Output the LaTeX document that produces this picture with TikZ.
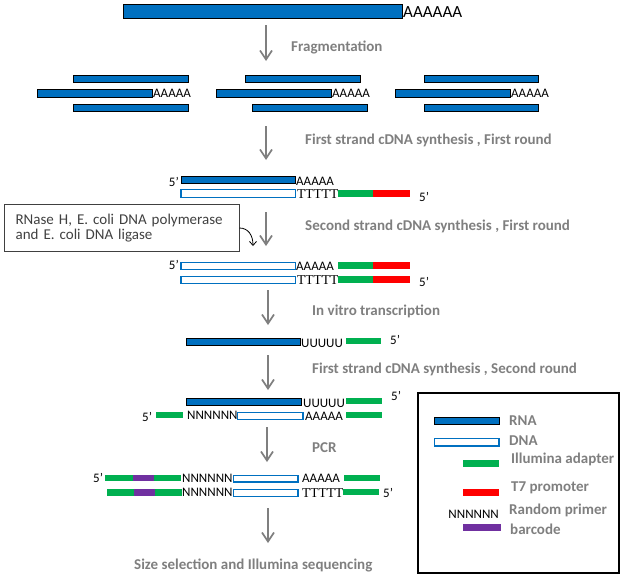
\documentclass[tikz,border=0pt]{standalone}
\usepackage{fontspec}
\setmainfont{Carlito}
\newfontfamily\serifseq{Liberation Serif}
\usetikzlibrary{arrows.meta}
\definecolor{rnablue}{HTML}{0070C0}
\definecolor{adgreen}{HTML}{00B050}
\definecolor{tred}{HTML}{FF0000}
\definecolor{bcpurple}{HTML}{7030A0}
\definecolor{labgray}{HTML}{7F7F7F}
\definecolor{boxgray}{HTML}{404040}
\begin{document}
\begin{tikzpicture}[x=1pt,y=-1pt,
 rna/.style={fill=rnablue,draw=black,line width=0.9pt},
 dna/.style={fill=white,draw=rnablue,line width=1.9pt},
 adapter/.style={fill=adgreen},
 tseven/.style={fill=tred},
 bc/.style={fill=bcpurple},
 lab/.style={anchor=west,inner sep=0pt,text=labgray,font=\fontsize{15}{18}\selectfont\bfseries},
 seq/.style={anchor=west,inner sep=0pt,font=\fontsize{13}{15}\selectfont},
 tseq/.style={anchor=west,inner sep=0pt,font=\fontsize{13.5}{15}\serifseq},
 flow/.style={draw=labgray,line width=2pt,-{Straight Barb[length=9pt,width=12pt,line width=1.7pt]}},
]
\useasboundingbox (0,0) rectangle (623,579);

% ---- top mRNA
\path[rna] (123.5,4.5) rectangle (402,18);
\node[seq,font=\fontsize{17}{20}\selectfont] (polyA) at (403,12) {AAAAAA};

% ---- arrow 1
\coordinate (a1s) at (266,25); \coordinate (a1e) at (266,61);
\draw[flow] (a1s) -- (a1e);
\node[lab] (t1) at (291,47) {Fragmentation};

% ---- fragments
\path[rna] (73.5,75.5) rectangle (188,82.5);
\path[rna] (37.5,89.5) rectangle (152.5,97);
\node[seq] (fa1) at (153,93.5) {AAAAA};
\path[rna] (73.5,104.5) rectangle (188,111.5);

\path[rna] (245,75.5) rectangle (360,82.5);
\path[rna] (216.5,89.5) rectangle (331.5,97);
\node[seq] (fa2) at (332,93.5) {AAAAA};
\path[rna] (252,104.5) rectangle (367,111.5);

\path[rna] (424,75.5) rectangle (538.5,82.5);
\path[rna] (395.5,89.5) rectangle (510.5,97);
\node[seq] (fa3) at (511,93.5) {AAAAA};
\path[rna] (424,104.5) rectangle (538.5,111.5);

% ---- arrow 2
\coordinate (a2s) at (266,126); \coordinate (a2e) at (266,160);
\draw[flow] (a2s) -- (a2e);
\node[lab] (t2) at (305,140) {First strand cDNA synthesis , First round};

% ---- row 3
\node[seq,anchor=east] (r3p1) at (179,182) {5’};
\path[rna] (181,176.5) rectangle (295.5,183);
\node[seq] (r3a) at (296,181.5) {AAAAA};
\path[dna] (181,189.5) rectangle (295.5,197.5);
\node[tseq] (r3t) at (297,194) {TTTTT};
\path[adapter] (338,190) rectangle (373,197);
\path[tseven] (373,190) rectangle (409.5,197);
\node[seq] (r3p2) at (419,197) {5’};

% ---- enzyme box
\node[draw=boxgray,line width=1.2pt,anchor=north west,minimum width=235pt,minimum height=47pt,
      text width=213pt,inner xsep=11pt,align=left,text=boxgray,
      font=\fontsize{15}{15}\selectfont] (enz) at (4,204)
      {RNase H, E. coli DNA polymerase\\and E. coli DNA ligase};
\coordinate (cs) at (239.5,228); \coordinate (ce) at (253,246);
\draw[black,line width=0.8pt,-{Straight Barb[length=4pt,width=7pt]}] (cs) .. controls (248,228) and (253,235) .. (ce);

% ---- arrow 3
\coordinate (a3s) at (266,212); \coordinate (a3e) at (266,246);
\draw[flow] (a3s) -- (a3e);
\node[lab] (t3) at (305,226) {Second strand cDNA synthesis , First round};

% ---- row 4
\node[seq,anchor=east] (r4p1) at (179,265) {5’};
\path[dna] (181,262.5) rectangle (295.5,269.5);
\node[seq] (r4a) at (296,266) {AAAAA};
\path[adapter] (338,262) rectangle (373,268.5);
\path[tseven] (373,262) rectangle (409.5,268.5);
\path[dna] (181,276.5) rectangle (295.5,283.5);
\node[tseq] (r4t) at (297,280) {TTTTT};
\path[adapter] (338,276) rectangle (373,283);
\path[tseven] (373,276) rectangle (409.5,283);
\node[seq] (r4p2) at (419,282) {5’};

% ---- arrow 4
\coordinate (a4s) at (268,290); \coordinate (a4e) at (268,325);
\draw[flow] (a4s) -- (a4e);
\node[lab] (t4) at (312,311) {In vitro transcription};

% ---- row 5
\path[rna] (186.5,338.5) rectangle (300.5,345);
\node[seq] (r5u) at (301,343) {UUUUU};
\path[adapter] (346,338) rectangle (381,344);
\node[seq] (r5p) at (390,340) {5’};

% ---- arrow 5
\coordinate (a5s) at (268,355); \coordinate (a5e) at (268,390);
\draw[flow] (a5s) -- (a5e);
\node[lab] (t5) at (312,369) {First strand cDNA synthesis , Second round};

% ---- row 6
\path[rna] (186,398.5) rectangle (301,405);
\node[seq] (r6u) at (303,403) {UUUUU};
\path[adapter] (346,398) rectangle (382,404);
\node[seq] (r6p1) at (391,396) {5’};
\node[seq] (r6p2) at (142,417) {5’};
\path[adapter] (156,412) rectangle (183,418);
\node[seq] (r6n) at (187,415) {NNNNNN};
\path[dna] (237.5,412.5) rectangle (303,419.5);
\node[seq] (r6a) at (305,416) {AAAAA};
\path[adapter] (346,412) rectangle (382,418);

% ---- arrow 6
\coordinate (a6s) at (267,427); \coordinate (a6e) at (267,462);
\draw[flow] (a6s) -- (a6e);
\node[lab] (t6) at (312,448) {PCR};

% ---- row 7
\node[seq] (r7p1) at (93,478) {5’};
\path[adapter] (105,475) rectangle (133,481);
\path[bc] (133,475) rectangle (154,481);
\path[adapter] (154,475) rectangle (181,481);
\node[seq] (r7n1) at (182,478) {NNNNNN};
\path[dna] (233.5,475.5) rectangle (298,482);
\node[seq] (r7a) at (302,478.5) {AAAAA};
\path[adapter] (344,475) rectangle (380,481);

\path[adapter] (107,489) rectangle (134,495.5);
\path[bc] (134,489) rectangle (155,495.5);
\path[adapter] (155,489) rectangle (182,495.5);
\node[seq] (r7n2) at (182,492.5) {NNNNNN};
\path[dna] (233.5,489.5) rectangle (298,496.5);
\node[tseq] (r7t) at (302,493) {TTTTT};
\path[adapter] (343,489) rectangle (379,495);
\node[seq] (r7p2) at (383,493) {5’};

% ---- arrow 7
\coordinate (a7s) at (268,508); \coordinate (a7e) at (268,543);
\draw[flow] (a7s) -- (a7e);
\node[lab] (t7) at (134,565) {Size selection and Illumina sequencing};

% ---- legend
\draw[black,line width=2pt] (418,393) rectangle (619,573);
\path[rna] (434,417.5) rectangle (499,424);
\node[lab] (lg1) at (509,421) {RNA};
\path[dna] (434.5,438.5) rectangle (499,446);
\node[lab] (lg2) at (509,441) {DNA};
\path[adapter] (463,460) rectangle (499,467);
\node[lab] (lg3) at (511,459) {Illumina adapter};
\path[tseven] (463,488.5) rectangle (499,495.5);
\node[lab] (lg4) at (511,488) {T7 promoter};
\node[seq,anchor=east] (lgn) at (499,514) {NNNNNN};
\node[lab] (lg5) at (509,510) {Random primer};
\path[bc] (463,524) rectangle (501,531);
\node[lab] (lg6) at (510,529) {barcode};
\end{tikzpicture}
\end{document}
